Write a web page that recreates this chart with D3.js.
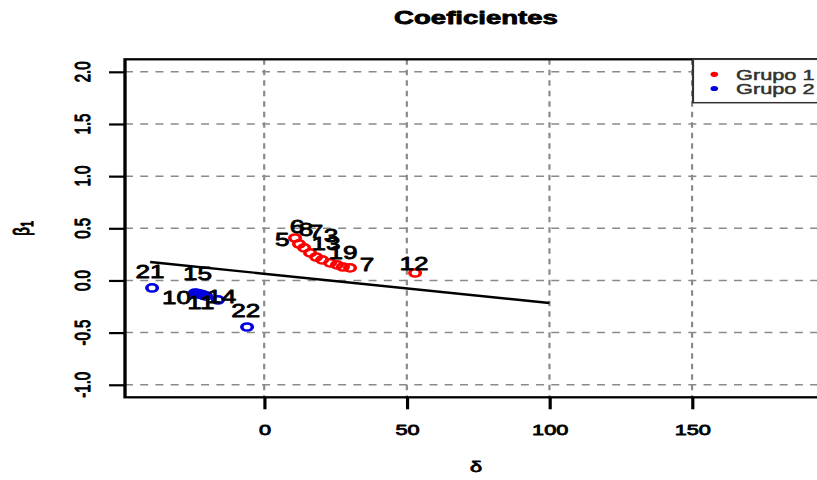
<!DOCTYPE html>
<html>
<head>
<meta charset="utf-8">
<script src="https://cdn.jsdelivr.net/npm/d3@7"></script>
<style>
  html, body { margin: 0; padding: 0; background: #fff; }
  svg { display: block; font-family: "Liberation Sans", Arial, Helvetica, sans-serif; }
  .heavy { stroke: #000; stroke-width: 0.8px; paint-order: stroke; stroke-linejoin: round; }
  .heavyg { stroke: #333; stroke-width: 0.5px; paint-order: stroke; stroke-linejoin: round; }
</style>
</head>
<body>
<script>
// ---- data ----
const xTicks = [0, 50, 100, 150];
const xTickLabels = ["0", "50", "100", "150"];
const yTicks = [-1, -0.5, 0, 0.5, 1, 1.5, 2];
const yTickLabels = ["-1.0", "-0.5", "0.0", "0.5", "1.0", "1.5", "2.0"];

const grupo1Delta = [10.8, 12.2, 14.0, 16.1, 18.2, 20.3, 23.1, 25.5, 27.6, 30.1, 52.9];
const grupo1Beta  = [0.407, 0.350, 0.312, 0.264, 0.225, 0.197, 0.168, 0.149, 0.129, 0.120, 0.072];
const grupo2Delta = [-39.3, -24.3, -23.6, -22.9, -22.2, -21.5, -20.9, -20.4, -16.2, -6.0];
const grupo2Beta  = [-0.072, -0.120, -0.124, -0.129, -0.134, -0.139, -0.144, -0.149, -0.187, -0.446];

const labels1      = ["5", "6", "8", "7", "3", "13", "19", "7", "12"];
const labels1Delta = [6.3, 11.5, 14.7, 18.2, 23.4, 21.7, 27.6, 36.0, 52.5];
const labels1Beta  = [0.388, 0.513, 0.484, 0.465, 0.427, 0.350, 0.264, 0.149, 0.158];
const labels2      = ["21", "15", "10", "11", "14", "22"];
const labels2Delta = [-40.0, -23.4, -30.7, -22.2, -14.9, -6.5];
const labels2Beta  = [0.084, 0.069, -0.163, -0.211, -0.155, -0.291];

const lineDelta = [-40.0, 100.0];
const lineBeta  = [0.177, -0.216];

const legendLabels = ["Grupo 1", "Grupo 2"];
const legendColors = ["#ff0000", "#0000e0"];

// ---- layout ----
const W = 817, H = 480;
const S = 1.45; // horizontal stretch of the original picture
const plotL = 125, plotR = 827, plotT = 59.3, plotB = 397.3;

const svg = d3.select("body").append("svg").attr("width", W).attr("height", H);
const g = svg.append("g").attr("transform", `scale(${S},1)`);

const x = d3.scaleLinear().domain([-48.8, 197.3]).range([plotL / S, plotR / S]);
const y = d3.scaleLinear().domain([-1.12, 2.12]).range([plotB, plotT]);

// grid
const grid = g.append("g").attr("stroke", "#8a8a8a").attr("stroke-width", 1.5)
  .attr("stroke-dasharray", "5.5,5").attr("fill", "none");
grid.selectAll("line.v").data(xTicks).join("line").attr("class", "v")
  .attr("x1", d => x(d)).attr("x2", d => x(d)).attr("y1", plotT).attr("y2", plotB);
grid.selectAll("line.h").data(yTicks).join("line").attr("class", "h")
  .attr("x1", plotL / S).attr("x2", plotR / S).attr("y1", d => y(d)).attr("y2", d => y(d));

// axes (ticks)
const xAxis = d3.axisBottom(x).tickValues(xTicks).tickSize(12).tickPadding(14.7)
  .tickFormat((d, i) => xTickLabels[i]);
const gx = g.append("g").attr("transform", `translate(0,${plotB})`).call(xAxis);
gx.select(".domain").remove();
gx.selectAll(".tick line").attr("stroke", "#000").attr("stroke-width", 2.2);
gx.selectAll(".tick text").attr("font-size", 15).attr("fill", "#000").attr("class", "heavy")
  .attr("font-family", "'Liberation Sans', Arial, sans-serif");

const yAxis = d3.axisLeft(y).tickValues(yTicks).tickSize(11).tickFormat("");
const gy = g.append("g").attr("transform", `translate(${plotL / S},0)`).call(yAxis);
gy.select(".domain").remove();
gy.selectAll(".tick line").attr("stroke", "#000").attr("stroke-width", 2.2);

g.append("g").selectAll("text").data(yTicks).join("text")
  .attr("class", "heavy")
  .attr("transform", (d) => `translate(${82.5 / S + 0.36 * 15},${y(d)}) rotate(-90)`)
  .attr("text-anchor", "middle").attr("font-size", 15).attr("fill", "#000")
  .text((d, i) => yTickLabels[i]);

// box
g.append("rect").attr("x", plotL / S).attr("y", plotT)
  .attr("width", (plotR - plotL) / S).attr("height", plotB - plotT)
  .attr("fill", "none").attr("stroke", "#000").attr("stroke-width", 2.3);

// regression line
g.append("path")
  .datum(lineDelta.map((d, i) => [d, lineBeta[i]]))
  .attr("d", d3.line().x(d => x(d[0])).y(d => y(d[1])))
  .attr("stroke", "#000").attr("stroke-width", 2.4).attr("fill", "none");

// points
g.append("g").selectAll("circle").data(grupo1Delta).join("circle")
  .attr("cx", d => x(d)).attr("cy", (d, i) => y(grupo1Beta[i])).attr("r", 3.6)
  .attr("fill", "none").attr("stroke", legendColors[0]).attr("stroke-width", 2.5);
g.append("g").selectAll("circle").data(grupo2Delta).join("circle")
  .attr("cx", d => x(d)).attr("cy", (d, i) => y(grupo2Beta[i])).attr("r", 3.6)
  .attr("fill", "none").attr("stroke", legendColors[1]).attr("stroke-width", 2.5);

// point labels
const LF = 18;
g.append("g").selectAll("text").data(labels1).join("text").attr("class", "heavy")
  .attr("x", (d, i) => x(labels1Delta[i])).attr("y", (d, i) => y(labels1Beta[i]) + 0.36 * LF)
  .attr("text-anchor", "middle").attr("font-size", LF).attr("fill", "#000").text(d => d);
g.append("g").selectAll("text").data(labels2).join("text").attr("class", "heavy")
  .attr("x", (d, i) => x(labels2Delta[i])).attr("y", (d, i) => y(labels2Beta[i]) + 0.36 * LF)
  .attr("text-anchor", "middle").attr("font-size", LF).attr("fill", "#000").text(d => d);

// legend
const lg = g.append("g");
lg.append("rect").attr("x", 693 / S).attr("y", plotT).attr("width", (plotR - 693) / S)
  .attr("height", 102.7 - plotT).attr("fill", "#fff").attr("stroke", "#333").attr("stroke-width", 1.5);
const rowY = [74.3, 88.5];
lg.selectAll("circle").data(legendLabels).join("circle")
  .attr("cx", 714.3 / S).attr("cy", (d, i) => rowY[i]).attr("r", 2.6)
  .attr("fill", (d, i) => legendColors[i]);
lg.selectAll("text").data(legendLabels).join("text").attr("class", "heavyg")
  .attr("x", 736 / S).attr("y", (d, i) => rowY[i] + 0.36 * 15)
  .attr("font-size", 15).attr("fill", "#333").text(d => d);

// title and axis titles
g.append("text").attr("x", (plotL + plotR) / 2 / S).attr("y", 24.5).attr("class", "heavy")
  .attr("text-anchor", "middle").attr("font-size", 19).attr("font-weight", "bold")
  .attr("fill", "#000").text("Coeficientes");
g.append("text").attr("x", (plotL + plotR) / 2 / S).attr("y", 472).attr("class", "heavy")
  .attr("text-anchor", "middle").attr("font-size", 15).attr("fill", "#000").text("δ");
const yl = g.append("text").attr("class", "heavy")
  .attr("transform", `translate(${29 / S},${(plotT + plotB) / 2}) rotate(-90)`)
  .attr("text-anchor", "middle").attr("font-size", 15).attr("fill", "#000");
yl.append("tspan").text("β");
yl.append("tspan").attr("font-size", 11).attr("dy", 3).text("1");
</script>
</body>
</html>
